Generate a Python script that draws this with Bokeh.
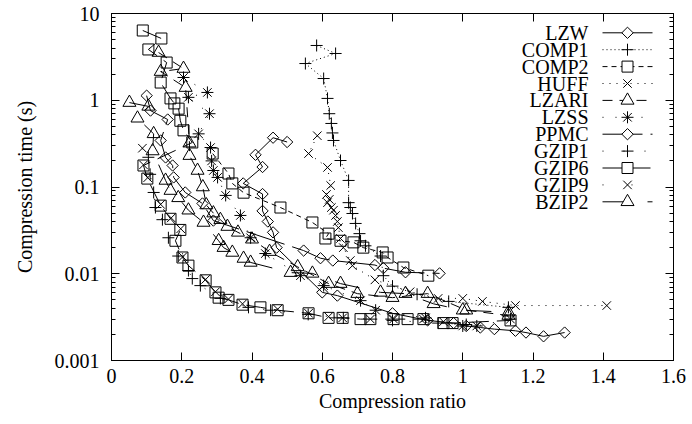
import numpy as np
from bokeh.plotting import figure
from bokeh.models import Range1d, FixedTicker, LinearAxis, LogAxis
from bokeh.embed import file_html
from bokeh.resources import INLINE
from bokeh.core.properties import value

FONT = "Liberation Serif"

# ---------------- data (compression ratio, compression time in s) ----------------
x_ticks = [0, 0.2, 0.4, 0.6, 0.8, 1, 1.2, 1.4, 1.6]
x_tick_labels = ["0", "0.2", "0.4", "0.6", "0.8", "1", "1.2", "1.4", "1.6"]
y_ticks = [0.001, 0.01, 0.1, 1, 10]
y_tick_labels = ["0.001", "0.01", "0.1", "1", "10"]

series_names = ["LZW", "COMP1", "COMP2", "HUFF", "LZARI", "LZSS", "PPMC",
                "GZIP1", "GZIP6", "GZIP9", "BZIP2"]

lzw_ratio = [0.50, 0.46, 0.41, 0.43, 0.375, 0.43, 0.43, 0.445, 0.46, 0.47, 0.60, 0.643,
             0.80, 0.90, 0.974, 1.01, 1.05, 1.09, 1.15, 1.18, 1.23, 1.29]
lzw_time = [0.33, 0.37, 0.235, 0.17, 0.11, 0.083, 0.053, 0.040, 0.030, 0.020, 0.0061, 0.0056,
            0.0035, 0.0029, 0.0027, 0.0025, 0.0024, 0.0023, 0.0022, 0.0021, 0.0019, 0.0021]

comp1_ratio = [0.584, 0.638, 0.552, 0.604, 0.615, 0.62, 0.626, 0.629, 0.632, 0.652, 0.675, 0.675,
               0.68, 0.686, 0.695, 0.706, 0.709, 0.723, 0.766, 0.774, 0.80, 0.87, 0.96, 1.13]
comp1_time = [4.28, 3.46, 2.65, 1.78, 1.05, 0.70, 0.54, 0.42, 0.344, 0.202, 0.119, 0.066,
              0.058, 0.0495, 0.038, 0.029, 0.024, 0.021, 0.016, 0.0095, 0.0072, 0.0058, 0.0048, 0.0041]

comp2_ratio = [0.288, 0.333, 0.344, 0.376, 0.481, 0.572, 0.618, 0.609, 0.652, 0.689, 0.717,
               0.772, 0.786, 0.831, 0.902]
comp2_time = [0.243, 0.143, 0.11, 0.086, 0.058, 0.039, 0.029, 0.0255, 0.024, 0.023, 0.020,
              0.0176, 0.0154, 0.0118, 0.0095]

huff_ratio = [0.586, 0.561, 0.615, 0.624, 0.612, 0.62, 0.615, 0.626, 0.632, 0.638, 0.643, 0.646,
              0.652, 0.66, 0.68, 0.686, 0.75, 0.85, 0.93, 1.0, 1.056, 1.15, 1.41]
huff_time = [0.39, 0.243, 0.168, 0.104, 0.082, 0.072, 0.066, 0.058, 0.054, 0.047, 0.040, 0.034,
             0.0255, 0.020, 0.0142, 0.0124, 0.0085, 0.0062, 0.0052, 0.0052, 0.0048, 0.0043, 0.0043]

lzari_ratio = [0.134, 0.205, 0.14, 0.211, 0.222, 0.222, 0.245, 0.26, 0.27, 0.29, 0.31, 0.33,
               0.36, 0.40, 0.45, 0.53, 0.618, 0.70, 0.80, 0.90, 1.01, 1.13]
lzari_time = [3.55, 2.32, 2.14, 1.4, 0.32, 0.23, 0.155, 0.10, 0.062, 0.050, 0.042, 0.035,
              0.030, 0.025, 0.018, 0.012, 0.0077, 0.0059, 0.0053, 0.0059, 0.0038, 0.0033]

lzss_ratio = [0.205, 0.273, 0.219, 0.279, 0.248, 0.282, 0.285, 0.29, 0.302, 0.325, 0.367, 0.396,
              0.438, 0.538, 0.604, 0.709, 0.752, 0.894, 1.0, 1.04, 1.136]
lzss_time = [1.83, 1.23, 1.08, 0.70, 0.41, 0.285, 0.20, 0.155, 0.129, 0.080, 0.047, 0.026,
             0.0171, 0.0095, 0.0073, 0.0049, 0.0038, 0.0031, 0.0025, 0.0025, 0.0030]

ppmc_ratio = [0.10, 0.111, 0.16, 0.14, 0.154, 0.174, 0.177, 0.21, 0.259, 0.29, 0.547, 0.595,
              0.63, 0.75, 0.774, 0.837, 0.934]
ppmc_time = [1.13, 0.76, 0.60, 0.344, 0.219, 0.177, 0.129, 0.0865, 0.0646, 0.041, 0.0185, 0.0151,
             0.0142, 0.0126, 0.0116, 0.0104, 0.0101]

gzip1_ratio = [0.105, 0.11, 0.12, 0.125, 0.145, 0.162, 0.19, 0.219, 0.23, 0.253, 0.31, 0.39,
               0.453, 0.56, 0.66, 0.80, 0.93, 1.01]
gzip1_time = [0.22, 0.14, 0.0865, 0.058, 0.042, 0.026, 0.016, 0.0109, 0.0088, 0.0073, 0.0052,
              0.0041, 0.0038, 0.0034, 0.0031, 0.0029, 0.0027, 0.0026]

gzip6_ratio = [0.089, 0.142, 0.105, 0.157, 0.14, 0.168, 0.179, 0.191, 0.196, 0.205, 0.23,
               0.091, 0.102, 0.14, 0.168, 0.196, 0.182, 0.202, 0.219, 0.268, 0.296, 0.305, 0.333,
               0.373, 0.424, 0.473, 0.561, 0.618, 0.658, 0.709, 0.737, 0.803, 0.843, 0.888,
               0.945, 0.971, 1.136]
gzip6_time = [6.37, 5.15, 3.85, 2.72, 1.6, 1.05, 0.92, 0.80, 0.58, 0.45, 0.326,
              0.177, 0.125, 0.061, 0.043, 0.032, 0.024, 0.0154, 0.0124, 0.0084, 0.0061, 0.0053,
              0.0050, 0.0044, 0.0041, 0.0038, 0.0035, 0.0031, 0.0031, 0.0030, 0.0030, 0.0030,
              0.0030, 0.0030, 0.0027, 0.0027, 0.0029]

gzip9_ratio = [0.088, 0.091, 0.103, 0.14, 0.17, 0.197, 0.203, 0.268, 0.296, 0.333, 0.373,
               0.473, 0.561, 0.618, 0.658, 0.737, 0.803, 0.888, 0.945]
gzip9_time = [0.28, 0.18, 0.128, 0.063, 0.044, 0.033, 0.0157, 0.0086, 0.0062, 0.0051, 0.0045,
              0.0039, 0.0035, 0.0032, 0.0031, 0.0030, 0.0030, 0.0030, 0.0028]

bzip2_ratio = [0.051, 0.105, 0.074, 0.12, 0.117, 0.154, 0.168, 0.19, 0.219, 0.262, 0.305, 0.319,
               0.344, 0.376, 0.396, 0.51, 0.572, 0.652, 0.766, 0.837, 0.917, 1.0, 1.13]
bzip2_time = [0.94, 0.85, 0.62, 0.41, 0.26, 0.119, 0.091, 0.075, 0.054, 0.039, 0.024, 0.020,
              0.0176, 0.015, 0.0135, 0.0103, 0.0101, 0.0077, 0.0061, 0.0059, 0.0045, 0.0038, 0.0036]

data = {
    "LZW": (lzw_ratio, lzw_time), "COMP1": (comp1_ratio, comp1_time),
    "COMP2": (comp2_ratio, comp2_time), "HUFF": (huff_ratio, huff_time),
    "LZARI": (lzari_ratio, lzari_time), "LZSS": (lzss_ratio, lzss_time),
    "PPMC": (ppmc_ratio, ppmc_time), "GZIP1": (gzip1_ratio, gzip1_time),
    "GZIP6": (gzip6_ratio, gzip6_time), "GZIP9": (gzip9_ratio, gzip9_time),
    "BZIP2": (bzip2_ratio, bzip2_time),
}

# ---------------- styles ----------------
DIAMOND = dict(marker="square", angle=np.pi / 4, size=8)
styles = {
    "LZW":   (DIAMOND, "solid"),
    "COMP1": (dict(marker="cross", size=12), "1 3"),
    "COMP2": (dict(marker="square", size=11), "5 4"),
    "HUFF":  (dict(marker="x", size=12), "1 6"),
    "LZARI": (dict(marker="triangle", size=13), "10 7"),
    "LZSS":  (dict(marker="asterisk", size=12), "1 12"),
    "PPMC":  (DIAMOND, "40 8"),
    "GZIP1": (dict(marker="cross", size=12), "1 20"),
    "GZIP6": (dict(marker="square", size=11), "20 8"),
    "GZIP9": (dict(marker="x", size=12), "1 28"),
    "BZIP2": (dict(marker="triangle", size=13), "25 20"),
}

p = figure(width=692, height=424, x_range=Range1d(0, 1.6), y_range=Range1d(0.001, 10),
           y_axis_type="log", output_backend="svg", toolbar_location=None,
           min_border_left=111, min_border_right=19, min_border_top=13, min_border_bottom=64)
p.grid.visible = False
p.outline_line_color = "black"
p.background_fill_color = "white"

x_minor = []
y_minor = [k * 10.0 ** e for e in range(-3, 1) for k in range(2, 10)]

def style_axis(ax):
    ax.axis_line_color = "black"
    ax.major_tick_in = 8
    ax.major_tick_out = 0
    ax.minor_tick_in = 4
    ax.minor_tick_out = 0
    ax.major_tick_line_color = "black"
    ax.minor_tick_line_color = "black"
    ax.major_label_text_font = FONT
    ax.major_label_text_font_size = "20px"
    ax.major_label_text_color = "black"
    ax.axis_label_text_font = FONT
    ax.axis_label_text_font_size = "20px"
    ax.axis_label_text_font_style = "normal"
    ax.axis_label_text_color = "black"

xa = p.xaxis[0]
xa.ticker = FixedTicker(ticks=x_ticks, minor_ticks=x_minor)
xa.major_label_overrides = dict(zip(x_ticks, x_tick_labels))
xa.axis_label = "Compression ratio"
style_axis(xa)
xa.major_label_standoff = 8
xa.axis_label_standoff = 4

ya = p.yaxis[0]
ya.ticker = FixedTicker(ticks=y_ticks, minor_ticks=y_minor)
ya.major_label_overrides = dict(zip(y_ticks, y_tick_labels))
ya.axis_label = "Compression time (s)"
style_axis(ya)
ya.major_label_standoff = 12
ya.axis_label_standoff = 16

top = LinearAxis(ticker=FixedTicker(ticks=x_ticks, minor_ticks=x_minor),
                 major_label_overrides={t: "" for t in x_ticks})
style_axis(top)
top.major_label_standoff = 0
p.add_layout(top, "above")

right = LogAxis(ticker=FixedTicker(ticks=y_ticks, minor_ticks=y_minor),
                major_label_overrides={t: "" for t in y_ticks})
style_axis(right)
right.major_label_standoff = 0
p.add_layout(right, "right")

for name in series_names:
    xs, ys = data[name]
    mk, dash = styles[name]
    p.line(xs, ys, line_color="black", line_width=1, line_dash=dash)
    p.scatter(xs, ys, line_color="black", fill_color=None, line_width=1, **mk)

# ---------------- legend (label right-aligned, sample to the right) ----------------
frame_h = 347.0
decades = np.log10(10) - np.log10(0.001)
row_px = 32.3 + 16.9 * np.arange(len(series_names))
row_y = 10 ** (np.log10(10) - row_px / frame_h * decades + 13 / frame_h * decades)
lab_x = 1.6 * (588 - 111) / 562
s0 = 1.6 * (602 - 111) / 562
s1 = 1.6 * (652 - 111) / 562
sm = (s0 + s1) / 2
p.text(x=[lab_x] * len(series_names), y=list(row_y), text=series_names,
       text_font=value(FONT), text_font_size="20px", text_align="right",
       text_baseline="middle", text_color="black")
for name, yy in zip(series_names, row_y):
    mk, dash = styles[name]
    p.line([s0, s1], [yy, yy], line_color="black", line_width=1, line_dash=dash)
    p.scatter([sm], [yy], line_color="black", fill_color="white", line_width=1, **mk)

open("out.html", "w").write(file_html(p, INLINE))
